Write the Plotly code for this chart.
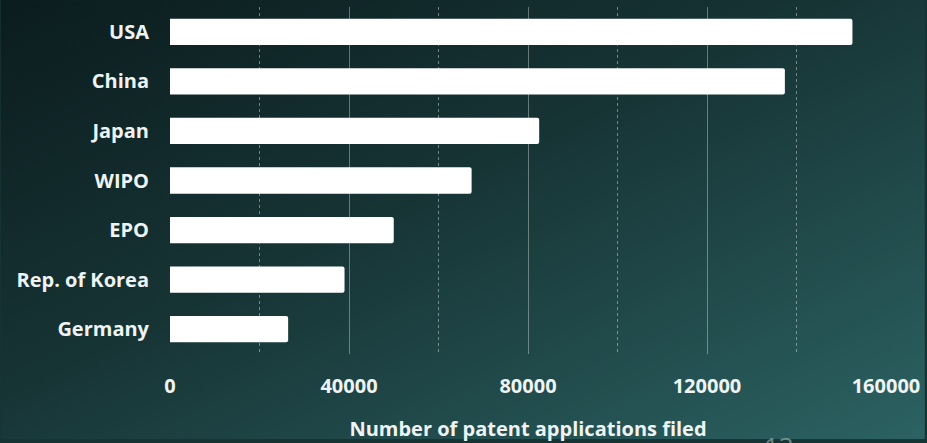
import base64
import plotly.graph_objects as go

countries = ["USA", "China", "Japan", "WIPO", "EPO", "Rep. of Korea", "Germany"]
applications = [152500, 137400, 82500, 67400, 50000, 39000, 26400]
tick_values = [0, 40000, 80000, 120000, 160000]
tick_labels = ["0", "40000", "80000", "120000", "160000"]
minor_grid_values = [20000, 60000, 100000, 140000]
x_title = "Number of patent applications filed"
page_number = "13"

W, H = 927, 443
L, R, T, B = 170, 39, 7, 86
PW, PH = W - L - R, H - T - B

svg = (
    f"<svg xmlns='http://www.w3.org/2000/svg' width='{W}' height='{H}' viewBox='0 0 {W} {H}' preserveAspectRatio='none'>"
    "<defs><linearGradient id='g' x1='0' y1='0' x2='1' y2='1'>"
    "<stop offset='0' stop-color='#0b1c1e'/>"
    "<stop offset='0.45' stop-color='#173435'/>"
    "<stop offset='1' stop-color='#2c6262'/>"
    "</linearGradient></defs>"
    f"<rect width='{W}' height='{H}' fill='url(#g)'/></svg>"
)
bg_uri = "data:image/svg+xml;base64," + base64.b64encode(svg.encode()).decode()

font_family = "Open Sans, Lato, sans-serif"
text_color = "#eef3f3"

fig = go.Figure(
    go.Bar(
        x=applications,
        y=countries,
        orientation="h",
        marker=dict(color="#ffffff", line=dict(width=0), cornerradius=2),
        width=0.53,
        hoverinfo="x+y",
    )
)

fig.update_layout(
    width=W,
    height=H,
    margin=dict(l=L, r=R, t=T, b=B),
    paper_bgcolor="#173435",
    plot_bgcolor="rgba(0,0,0,0)",
    showlegend=False,
    font=dict(family=font_family, color=text_color, size=20, weight="bold"),
    images=[
        dict(
            source=bg_uri,
            xref="paper",
            yref="paper",
            x=-L / PW,
            y=1 + T / PH,
            sizex=W / PW,
            sizey=H / PH,
            xanchor="left",
            yanchor="top",
            sizing="stretch",
            layer="below",
        )
    ],
    annotations=[
        dict(
            text=page_number,
            xref="paper",
            yref="paper",
            x=(781 - L) / PW,
            y=-(450 - T - PH) / PH,
            xanchor="center",
            yanchor="middle",
            showarrow=False,
            font=dict(size=26, color="rgba(190,200,200,0.55)", weight="normal"),
        )
    ],
)

fig.update_xaxes(
    range=[0, 160000],
    tickvals=tick_values,
    ticktext=tick_labels,
    showgrid=True,
    gridcolor="rgba(255,255,255,0.35)",
    gridwidth=1,
    zeroline=False,
    showline=False,
    ticks="",
    ticklabelstandoff=18,
    tickfont=dict(size=20, color=text_color, weight="bold"),
    minor=dict(
        tickvals=minor_grid_values,
        showgrid=True,
        gridcolor="rgba(255,255,255,0.4)",
        griddash="dot",
        gridwidth=1,
    ),
    title=dict(text=x_title, standoff=23, font=dict(size=20, color=text_color, weight="bold")),
    fixedrange=True,
)

fig.update_yaxes(
    autorange="reversed",
    showgrid=False,
    zeroline=False,
    showline=False,
    ticks="",
    ticklabelstandoff=20,
    tickfont=dict(size=20, color=text_color, weight="bold"),
    fixedrange=True,
)

fig.write_html(
    "out.html",
    config={"displayModeBar": False},
    post_script="document.body.style.margin='0';document.body.style.overflow='hidden';",
)
